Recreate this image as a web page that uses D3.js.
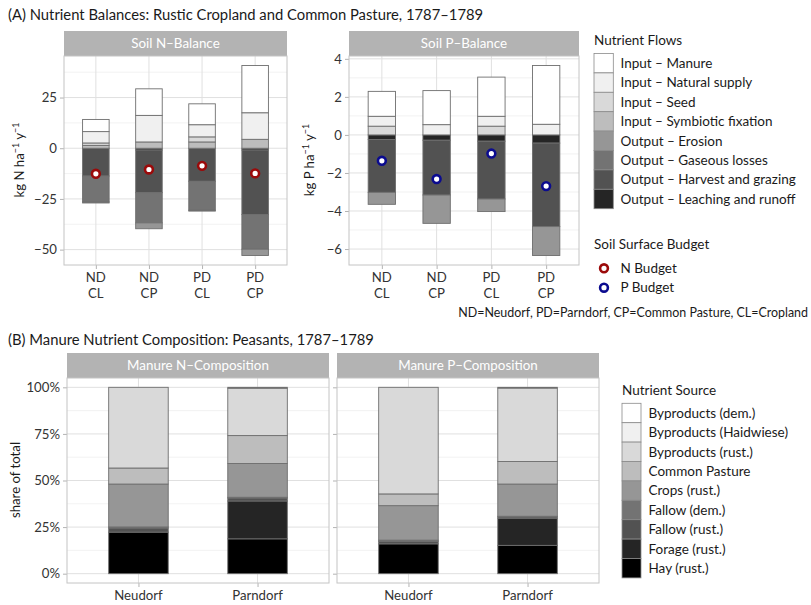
<!DOCTYPE html>
<html>
<head>
<meta charset="utf-8">
<script src="https://cdn.jsdelivr.net/npm/d3@7"></script>
<style>
  body { margin: 0; background: #fff; }
  text { font-family: Lato, "Open Sans", sans-serif; }
</style>
</head>
<body>
<svg id="chart" width="811" height="605"></svg>
<script>
// ---------- data (panel A: nutrient balances, kg/ha/yr) ----------
const balanceSites = ["ND", "ND", "PD", "PD"];
const balanceLand  = ["CL", "CP", "CL", "CP"];
const flowNames = ["Input \u2013 Manure", "Input \u2013 Natural supply", "Input \u2013 Seed",
                   "Input \u2013 Symbiotic fixation", "Output \u2013 Erosion", "Output \u2013 Gaseous losses",
                   "Output \u2013 Harvest and grazing", "Output \u2013 Leaching and runoff"];

// one array per bar, in the order of flowNames
const nNDCL = [6.0, 5.6, 1.2, 1.4, -0.5, -12.8, -13.7, 0];
const nNDCP = [13.1, 13.1, 0, 3.1, -2.9, -14.9, -21.0, -0.9];
const nPDCL = [10.3, 6.0, 2.5, 3.1, -0.4, -14.3, -16.3, 0];
const nPDCP = [23.3, 13.1, 0, 4.4, -3.1, -17.1, -31.8, -0.9];
const nBudget = [-12.6, -10.5, -8.7, -12.4];

const pNDCL = [1.31, 0.52, 0.46, 0, -0.63, 0, -2.78, -0.24];
const pNDCP = [1.79, 0.54, 0, 0, -1.49, 0, -2.88, -0.28];
const pPDCL = [2.06, 0.52, 0.46, 0, -0.66, 0, -3.04, -0.33];
const pPDCP = [3.09, 0.56, 0, 0, -1.52, 0, -4.39, -0.43];
const pBudget = [-1.36, -2.32, -0.98, -2.69];

// ---------- data (panel B: manure composition, share of total) ----------
const villages = ["Neudorf", "Parndorf"];
const sourceNames = ["Byproducts (dem.)", "Byproducts (Haidwiese)", "Byproducts (rust.)", "Common Pasture",
                     "Crops (rust.)", "Fallow (dem.)", "Fallow (rust.)", "Forage (rust.)", "Hay (rust.)"];
const shareNNeudorf  = [0, 0, 0.433, 0.086, 0.230, 0.006, 0.022, 0, 0.223];
const shareNParndorf = [0, 0.005, 0.254, 0.150, 0.181, 0.004, 0.016, 0.203, 0.187];
const sharePNeudorf  = [0, 0, 0.572, 0.063, 0.185, 0.006, 0.014, 0, 0.160];
const sharePParndorf = [0, 0.004, 0.394, 0.121, 0.173, 0.003, 0.007, 0.146, 0.152];

// greys (brewer)
const greys9 = ["#FFFFFF", "#F0F0F0", "#D9D9D9", "#BDBDBD", "#969696", "#737373", "#525252", "#252525", "#000000"];
const greys8 = greys9.slice(0, 8);

const svg = d3.select("#chart");
const barStroke = "#6e6e6e";
const legendSize = 13.5;

// ggplot-ish 5% expansion
function expand(lo, hi) {
	const d = (hi - lo) * 0.05;
	return [lo - d, hi + d];
}

// draws the facet frame (strip, grid, axes) and hands back the scales
function facet(cfg) {
	const g = svg.append("g");
	const x = d3.scalePoint().domain(cfg.cats).range([cfg.left, cfg.right]).padding(0.6);
	const y = d3.scaleLinear().domain(cfg.domain).range([cfg.bottom, cfg.top]);

	// strip
	g.append("rect")
		.attr("x", cfg.left).attr("y", cfg.top - 25)
		.attr("width", cfg.right - cfg.left).attr("height", 25)
		.attr("fill", "#b3b3b3");
	g.append("text")
		.attr("x", (cfg.left + cfg.right) / 2).attr("y", cfg.top - 8)
		.attr("text-anchor", "middle").attr("fill", "#fff").attr("font-size", 13.4)
		.text(cfg.strip);

	// grid
	g.selectAll(".minor").data(cfg.minor).enter().append("line")
		.attr("x1", cfg.left).attr("x2", cfg.right)
		.attr("y1", d => y(d)).attr("y2", d => y(d))
		.attr("stroke", "#ededed").attr("stroke-width", 0.7);
	g.selectAll(".major").data(cfg.ticks).enter().append("line")
		.attr("x1", cfg.left).attr("x2", cfg.right)
		.attr("y1", d => y(d)).attr("y2", d => y(d))
		.attr("stroke", "#e0e0e0").attr("stroke-width", 1);
	g.selectAll(".vmajor").data(cfg.cats).enter().append("line")
		.attr("x1", d => x(d)).attr("x2", d => x(d))
		.attr("y1", cfg.top).attr("y2", cfg.bottom)
		.attr("stroke", "#e0e0e0").attr("stroke-width", 1);

	// axes
	const yAxis = g.append("g").attr("transform", `translate(${cfg.left},0)`)
		.call(d3.axisLeft(y).tickValues(cfg.ticks).tickSize(4).tickPadding(3).tickFormat(cfg.fmt));
	const xAxis = g.append("g").attr("transform", `translate(0,${cfg.bottom})`)
		.call(d3.axisBottom(x).tickSize(4).tickFormat(""));
	[yAxis, xAxis].forEach(a => {
		a.select(".domain").remove();
		a.selectAll(".tick line").attr("stroke", "#b3b3b3");
		a.selectAll(".tick text").attr("fill", "#333").attr("font-size", 13.2)
			.style("font-family", "Lato, 'Open Sans', sans-serif");
	});

	// x labels (possibly two lines)
	cfg.cats.forEach((c, i) => {
		const t = g.append("text").attr("text-anchor", "middle")
			.attr("fill", "#333").attr("font-size", 13.2);
		cfg.xLabels[i].forEach((line, j) => {
			t.append("tspan").attr("x", x(c)).attr("y", cfg.bottom + 17 + j * 15.5).text(line);
		});
	});

	return { g, x, y, cfg };
}

function frame(p) {
	p.g.append("rect")
		.attr("x", p.cfg.left).attr("y", p.cfg.top)
		.attr("width", p.cfg.right - p.cfg.left).attr("height", p.cfg.bottom - p.cfg.top)
		.attr("fill", "none").attr("stroke", "#c4c4c4").attr("stroke-width", 1);
}

// stacked bars: positive and negative stacked separately, last series closest to zero
function stackBars(p, rows, colours) {
	const bw = p.x.step() * 0.5;
	rows.forEach((vals, i) => {
		const cx = p.x(p.cfg.cats[i]);
		let pos = 0, neg = 0;
		for (let k = vals.length - 1; k >= 0; k--) {
			const v = vals[k];
			if (v === 0) continue;
			let a, b;
			if (v > 0) { a = pos; b = pos + v; pos = b; }
			else { a = neg; b = neg + v; neg = b; }
			p.g.append("rect")
				.attr("x", cx - bw / 2).attr("width", bw)
				.attr("y", p.y(Math.max(a, b)))
				.attr("height", Math.abs(p.y(a) - p.y(b)))
				.attr("fill", colours[k])
				.attr("stroke", barStroke).attr("stroke-width", 0.9);
		}
	});
}

function budgetPoints(p, vals, colour) {
	p.g.selectAll(".pt").data(vals).enter().append("circle")
		.attr("cx", (d, i) => p.x(p.cfg.cats[i]))
		.attr("cy", d => p.y(d))
		.attr("r", 3.9)
		.attr("fill", "#fff").attr("stroke", colour).attr("stroke-width", 2.6);
}

function stackExtent(rows) {
	const pos = rows.map(r => d3.sum(r.filter(v => v > 0)));
	const neg = rows.map(r => d3.sum(r.filter(v => v < 0)));
	return expand(d3.min(neg), d3.max(pos));
}

// ---------- panel A ----------
const balanceCats = balanceSites.map((s, i) => s + " " + balanceLand[i]);
const balanceLabels = balanceSites.map((s, i) => [s, balanceLand[i]]);
const nRows = [nNDCL, nNDCP, nPDCL, nPDCP];
const pRows = [pNDCL, pNDCP, pPDCL, pPDCP];
const fmtSigned = d => d < 0 ? "\u2212" + Math.abs(d) : String(d);

svg.append("text").attr("x", 8).attr("y", 20).attr("font-size", 14.8).attr("fill", "#1a1a1a")
	.text("(A) Nutrient Balances: Rustic Cropland and Common Pasture, 1787\u20131789");

const pN = facet({ left: 64, right: 287, top: 56, bottom: 265, cats: balanceCats, xLabels: balanceLabels,
	domain: stackExtent(nRows), ticks: [-50, -25, 0, 25], minor: [-37.5, -12.5, 12.5, 37.5],
	fmt: fmtSigned, strip: "Soil N\u2013Balance" });
stackBars(pN, nRows, greys8);
budgetPoints(pN, nBudget, "#9b0a0a");
frame(pN);

const pP = facet({ left: 349, right: 579, top: 56, bottom: 265, cats: balanceCats, xLabels: balanceLabels,
	domain: stackExtent(pRows), ticks: [-6, -4, -2, 0, 2, 4], minor: [-5, -3, -1, 1, 3],
	fmt: fmtSigned, strip: "Soil P\u2013Balance" });
stackBars(pP, pRows, greys8);
budgetPoints(pP, pBudget, "#0b0b8f");
frame(pP);

// y titles with superscripts
function unitTitle(x, y, nutrient) {
	const t = svg.append("text").attr("transform", `translate(${x},${y}) rotate(-90)`)
		.attr("text-anchor", "middle").attr("font-size", 13.2).attr("fill", "#1a1a1a");
	t.append("tspan").text(`kg ${nutrient} ha`);
	t.append("tspan").attr("dy", -5).attr("font-size", 9).text("\u22121");
	t.append("tspan").attr("dy", 5).text(" y");
	t.append("tspan").attr("dy", -5).attr("font-size", 9).text("\u22121");
}
unitTitle(24, 160, "N");
unitTitle(314, 160, "P");

// legend A
const legA = svg.append("g").attr("transform", "translate(594,0)");
legA.append("text").attr("x", 0).attr("y", 45).attr("font-size", 13.5).attr("fill", "#1a1a1a").text("Nutrient Flows");
flowNames.forEach((name, i) => {
	legA.append("rect").attr("x", 0).attr("y", 53.5 + i * 19.4).attr("width", 19.3).attr("height", 19.4)
		.attr("fill", greys8[i]).attr("stroke", "#8a8a8a").attr("stroke-width", 0.8);
	legA.append("text").attr("x", 26.5).attr("y", 53.5 + i * 19.4 + 14.5).attr("font-size", legendSize)
		.attr("fill", "#1a1a1a").text(name);
});
legA.append("text").attr("x", 0).attr("y", 249).attr("font-size", 13.5).attr("fill", "#1a1a1a").text("Soil Surface Budget");
[["N Budget", "#9b0a0a"], ["P Budget", "#0b0b8f"]].forEach((d, i) => {
	legA.append("circle").attr("cx", 10).attr("cy", 268.3 + i * 19.4).attr("r", 3.9)
		.attr("fill", "#fff").attr("stroke", d[1]).attr("stroke-width", 2.6);
	legA.append("text").attr("x", 26.5).attr("y", 273 + i * 19.4).attr("font-size", legendSize)
		.attr("fill", "#1a1a1a").text(d[0]);
});
svg.append("text").attr("x", 808).attr("y", 317).attr("text-anchor", "end").attr("font-size", 12.45)
	.attr("fill", "#1a1a1a").text("ND=Neudorf, PD=Parndorf, CP=Common Pasture, CL=Cropland");

// ---------- panel B ----------
svg.append("text").attr("x", 8).attr("y", 345).attr("font-size", 14.8).attr("fill", "#1a1a1a")
	.text("(B) Manure Nutrient Composition: Peasants, 1787\u20131789");

const pct = d3.format(".0%");
const villageLabels = villages.map(v => [v]);
const bN = facet({ left: 67, right: 329, top: 378, bottom: 583, cats: villages, xLabels: villageLabels,
	domain: [-0.05, 1.05], ticks: [0, 0.25, 0.5, 0.75, 1], minor: [0.125, 0.375, 0.625, 0.875],
	fmt: pct, strip: "Manure N\u2013Composition" });
stackBars(bN, [shareNNeudorf, shareNParndorf], greys9);
frame(bN);

const bP = facet({ left: 337, right: 599, top: 378, bottom: 583, cats: villages, xLabels: villageLabels,
	domain: [-0.05, 1.05], ticks: [0, 0.25, 0.5, 0.75, 1], minor: [0.125, 0.375, 0.625, 0.875],
	fmt: () => "", strip: "Manure P\u2013Composition" });
stackBars(bP, [sharePNeudorf, sharePParndorf], greys9);
frame(bP);
bP.g.selectAll(".tick text").remove();

svg.append("text").attr("transform", "translate(20,480) rotate(-90)").attr("text-anchor", "middle")
	.attr("font-size", 13.2).attr("fill", "#1a1a1a").text("share of total");

// legend B
const legB = svg.append("g").attr("transform", "translate(622,0)");
legB.append("text").attr("x", 0).attr("y", 395).attr("font-size", 13.5).attr("fill", "#1a1a1a").text("Nutrient Source");
sourceNames.forEach((name, i) => {
	legB.append("rect").attr("x", 0).attr("y", 403.3 + i * 19.4).attr("width", 19).attr("height", 19.4)
		.attr("fill", greys9[i]).attr("stroke", "#8a8a8a").attr("stroke-width", 0.8);
	legB.append("text").attr("x", 26.5).attr("y", 403.3 + i * 19.4 + 14.5).attr("font-size", legendSize)
		.attr("fill", "#1a1a1a").text(name);
});
</script>
</body>
</html>
